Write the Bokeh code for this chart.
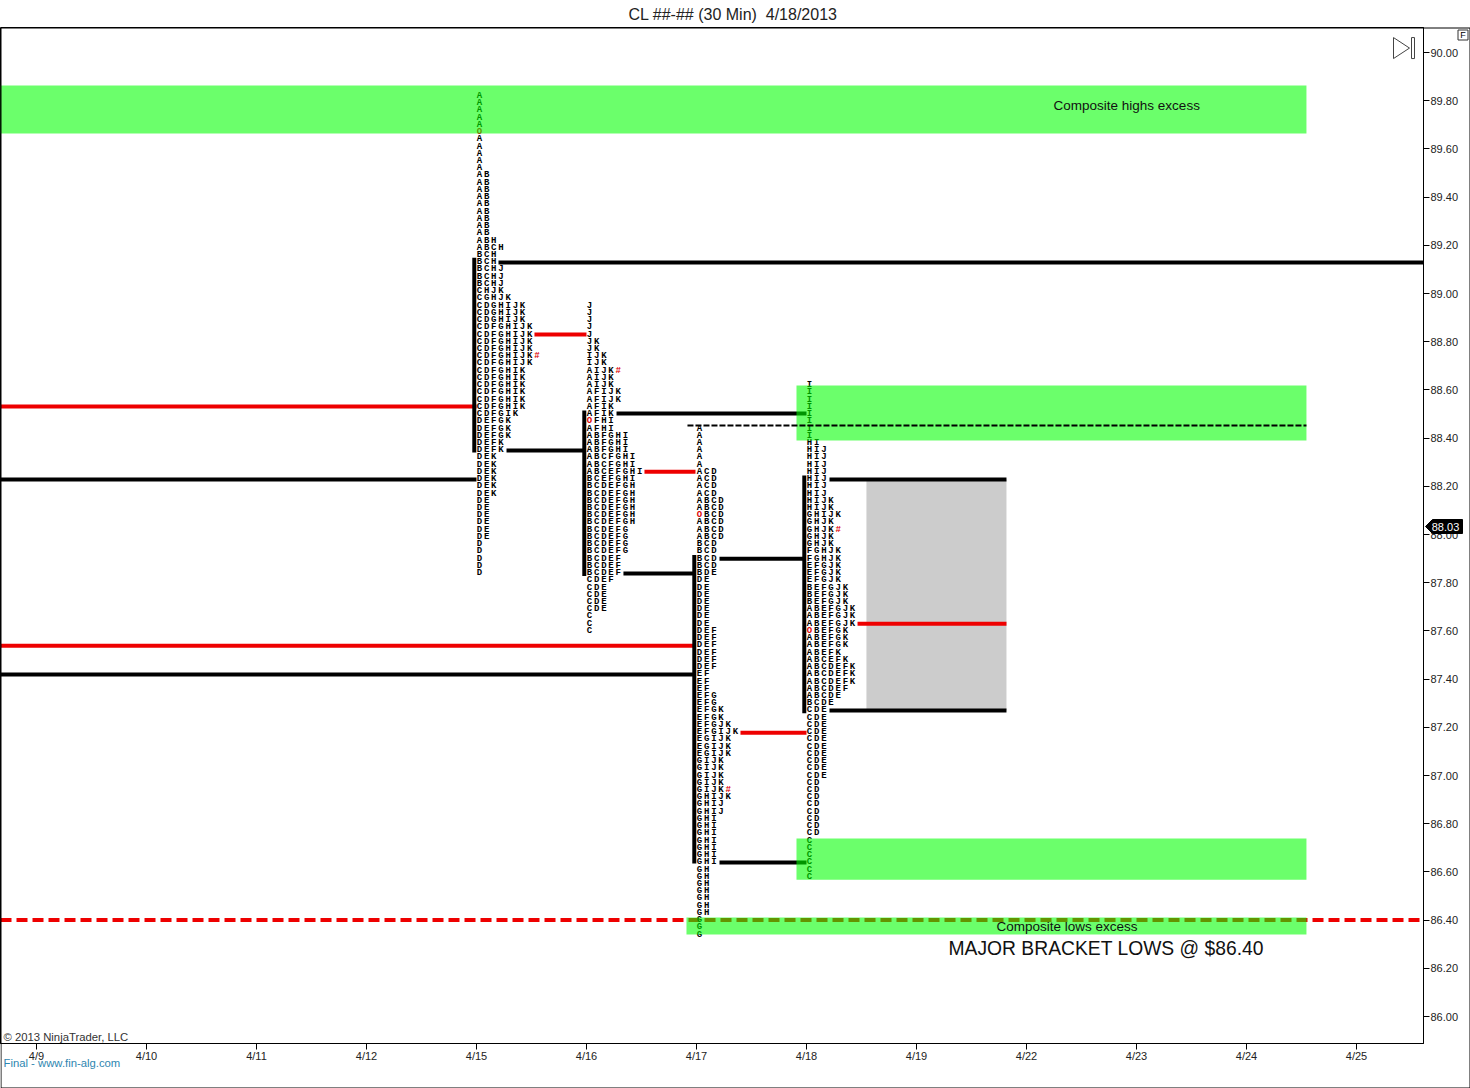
from bokeh.plotting import figure
from bokeh.embed import file_html
from bokeh.resources import INLINE
from bokeh.layouts import column
from bokeh.models import FixedTicker, NumeralTickFormatter, Range1d, Title
from bokeh.core.properties import value

# ---------- data ----------
DAY_LABELS = ["4/9", "4/10", "4/11", "4/12", "4/15", "4/16", "4/17", "4/18", "4/19", "4/22", "4/23", "4/24", "4/25"]
PRICE_TICKS = [86.0, 86.2, 86.4, 86.6, 86.8, 87.0, 87.2, 87.4, 87.6, 87.8, 88.0, 88.2, 88.4, 88.6, 88.8,
               89.0, 89.2, 89.4, 89.6, 89.8, 90.0]
TICK_SIZE = 0.03

# TPO profiles: day index, price of the top row, rows from top to bottom
PROFILE_DAYS = [4, 5, 6, 7]
PROFILE_TOPS = [89.82, 88.95, 88.44, 88.62]
ROWS_0415 = """A A A A A O A A A A A AB AB AB AB AB AB AB AB AB ABH ABCH BCH BCH BCHJ BCHJ BCHJ CHJK CGHJK
CDGHIJK CDGHIJK CDGHIJK CDFGHIJK CDFGHIJK CDFGHIJK CDFGHIJK CDFGHIJK# CDFGHIJK CDFGHIK CDFGHIK CDFGHIK CDFGHIK
CDFGHIK CDFGHIK CDFGIK DEFGK DEFGK DEFGK DEFK DEFK DEK DEK DEK DEK DEK DEK DE DE DE DE DE DE D D D D D""".split()
ROWS_0416 = """J J J J J JK JK IJK IJK AIJK# AIJK AIJK AFIJK AFIJK AFIK AFIK OFHI AFHI ABFGHI ABFGHI ABFGHI ABCFGHI ABCFGHI
ABCEFGHI BCEFGHI BCDEFGH BCDEFGH BCDEFGH BCDEFGH BCDEFGH BCDEFGH BCDEFG BCDEFG BCDEFG BCDEFG BCDEF BCDEF BCDEF
CDEF CDE CDE CDE CDE C C C""".split()
ROWS_0417 = """A A A A A A ACD ACD ACD ACD ABCD ABCD OBCD ABCD ABCD ABCD BCD BCD BCD BCD BDE DE DE DE DE DE DE DE
DEF DEF DEF DEF DEF DEF EF EF EF EFG EFG EFGK EFGK EFGJK EFGIJK EGIJK EGIJK EGIJK GIJK GIJK GIJK GIJK GIJK# GHIJK
GHIJ GHIJ GHI GHI GHI GHI GHI GHI GHI GH GH GH GH GH GH GH G G G""".split()
ROWS_0418 = """I I I I I I I I HI HIJ HIJ HIJ HIJ HIJ HIJ HIJ HIJK HIJK GHIJK GHJK GHJK# GHJK GHJK FGHJK FGHJK EFGJK EFGJK EFGJK
BEFGJK BEFGJK BEFGJK ABEFGJK ABEFGJK ABEFGJK OBEFGK ABEFGK ABEFGK ABEFK ABCEFK ABCDEFK ABCDEFK ABCDEFK ABCDEF ABCDE
BCDE CDE CDE CDE CDE CDE CDE CDE CDE CDE CDE CD CD CD CD CD CD CD CD C C C C C C""".split()
PROFILE_ROWS = [ROWS_0415, ROWS_0416, ROWS_0417, ROWS_0418]

# value-area bars: day position, high, low
VA_X = [3.98, 4.98, 5.98, 6.98]
VA_HIGH = [89.149, 88.515, 87.915, 88.245]
VA_LOW = [88.340, 87.828, 86.635, 87.258]

# levels: price, start, end
BLACK_PRICE = [89.129, 88.228, 87.419, 88.349, 88.502, 87.838, 87.90, 86.639, 88.228, 87.27]
BLACK_START = [4.20, -0.327, -0.327, 4.273, 5.273, 5.336, 6.209, 6.209, 7.209, 7.209]
BLACK_END = [12.609, 4.0, 5.982, 4.973, 7.0, 5.982, 6.982, 7.0, 8.818, 8.818]
RED_PRICE = [88.531, 87.539, 88.83, 88.261, 87.178, 87.63]
RED_START = [-0.327, -0.327, 4.527, 5.527, 6.40, 7.464]
RED_END = [4.0, 5.982, 5.0, 5.991, 7.0, 8.818]

# shaded zones
ZONE_LEFT = [-0.327, 6.909, 6.909, 5.909]
ZONE_RIGHT = [11.545, 11.545, 11.545, 11.545]
ZONE_TOP = [89.863, 88.618, 86.739, 86.411]
ZONE_BOTTOM = [89.664, 88.39, 86.568, 86.34]
BRACKET_LOW = 86.40
DASH_LEVEL = 88.452
RANGE_BOX = (7.545, 8.818, 88.228, 87.27)
LAST_PRICE = "88.03"

# ---------- layout ----------
X0, X1 = -0.327, 12.609
Y0, Y1 = 85.888, 90.104
W, H = 1470, 1088
p = figure(width=W, height=H, x_range=Range1d(X0, X1), y_range=Range1d(Y0, Y1),
           output_backend="svg", toolbar_location=None, frame_align=False,
           min_border_left=0, min_border_right=47, min_border_bottom=45, min_border_top=0,
           background_fill_color="white", border_fill_color="white", y_axis_location="right")
p.title = Title(text="CL ##-## (30 Min)\u00a0 4/18/2013", align="left", offset=628,
                text_font="Liberation Sans", text_font_size="16px", text_font_style="normal",
                text_color="#222222", standoff=8, vertical_align="middle")
p.min_border_top = 27
p.grid.visible = False
p.outline_line_color = "black"

xa = p.xaxis[0]
xa.ticker = FixedTicker(ticks=list(range(len(DAY_LABELS))))
xa.major_label_overrides = {i: s for i, s in enumerate(DAY_LABELS)}
xa.minor_tick_line_color = None
xa.major_tick_in = 0
xa.major_tick_out = 6
xa.major_label_standoff = 0
xa.major_label_text_font = "Liberation Sans"
xa.major_label_text_font_size = "11px"
xa.major_label_text_color = "#222222"

ya = p.yaxis[0]
ya.ticker = FixedTicker(ticks=PRICE_TICKS)
ya.formatter = NumeralTickFormatter(format="0.00")
ya.minor_tick_line_color = None
ya.major_tick_in = 0
ya.major_tick_out = 6
ya.major_label_standoff = 1
ya.major_label_text_font = "Liberation Sans"
ya.major_label_text_font_size = "11px"
ya.major_label_text_color = "#222222"

# range box
p.quad(left=[RANGE_BOX[0]], right=[RANGE_BOX[1]], top=[RANGE_BOX[2]], bottom=[RANGE_BOX[3]],
       fill_color="#cccccc", line_color=None)

# levels
p.segment(BLACK_START, BLACK_PRICE, BLACK_END, BLACK_PRICE, line_color="black", line_width=4, line_cap="butt")
p.segment(RED_START, RED_PRICE, RED_END, RED_PRICE, line_color="#ee0000", line_width=4, line_cap="butt")
p.segment(VA_X, VA_HIGH, VA_X, VA_LOW, line_color="black", line_width=4, line_cap="butt")
p.segment([X0], [BRACKET_LOW], [X1], [BRACKET_LOW], line_color="#ee0000", line_width=4, line_dash="11 5", line_cap="butt")

# TPO letters
COL_OFFSET = 3 / 110
COL_STEP = 7.17 / 110
xs, ys, chars, cols = [], [], [], []
for day, top, rows in zip(PROFILE_DAYS, PROFILE_TOPS, PROFILE_ROWS):
    for i, row in enumerate(rows):
        for j, ch in enumerate(row):
            xs.append(day + COL_OFFSET + j * COL_STEP)
            ys.append(top - i * TICK_SIZE)
            chars.append(ch)
            cols.append("#dd0000" if ch in "#O" else "black")
p.text(xs, ys, text=chars, text_color=cols, text_font=value("Liberation Mono"), text_font_size="9px",
       text_font_style="bold", text_align="center", text_baseline="middle")

# zones above letters
p.quad(left=ZONE_LEFT, right=ZONE_RIGHT, top=ZONE_TOP, bottom=ZONE_BOTTOM,
       fill_color="#00ff00", fill_alpha=0.58, line_color=None)
p.segment([5.918], [DASH_LEVEL], [11.545], [DASH_LEVEL], line_color="black", line_width=2, line_dash="6 2", line_cap="butt")

def note(text, day, price, size, color="#111111"):
    p.text([day], [price], text=[text], text_color=color, text_font=value("Liberation Sans"),
           text_font_size=size, text_align="left", text_baseline="middle")

note("Composite highs excess", 9.246, 89.78, "13.5px")
note("Composite lows excess", 8.727, 86.372, "13.5px")
note("MAJOR BRACKET LOWS @ $86.40", 8.291, 86.283, "19.3px")
note("© 2013 NinjaTrader, LLC", -0.30, 85.917, "11.3px", "#333333")

# play/end icon
def px(x): return (x - 36) / 110
def py(y): return 90 - (y - 52) / 241
p.patch([px(1393), px(1393), px(1409)], [py(37), py(58), py(47.5)], fill_color="white", line_color="#444444", line_width=1)
p.patch([px(1411), px(1411), px(1414), px(1414)], [py(37), py(58), py(58), py(37)], fill_color="white", line_color="#444444", line_width=1)

# transparent overlay in page pixels for the chrome that lies outside the plot frame
ov = figure(width=W, height=H, x_range=Range1d(0, W), y_range=Range1d(H, 0),
            output_backend="svg", toolbar_location=None, x_axis_location=None, y_axis_location=None,
            frame_align=False, min_border=0, min_border_left=0, min_border_right=0, min_border_top=0, min_border_bottom=0,
            background_fill_color=None, border_fill_color=None, outline_line_color=None,
            margin=(-H, 0, 0, 0))
ov.grid.visible = False
ov.line([0.5, 1469.5, 1469.5, 0.5, 0.5], [27.5, 27.5, 1087.5, 1087.5, 27.5], line_color="black", line_width=1)
ov.patch([1425, 1432, 1462, 1462, 1432], [526, 519, 519, 533, 533], fill_color="black", line_color="black")
ov.text([1445], [526], text=[LAST_PRICE], text_color="white", text_font=value("Liberation Sans"),
        text_font_size="11px", text_align="center", text_baseline="middle")
ov.quad(left=[1457.5], right=[1467.5], top=[29.5], bottom=[39.5], fill_color="white", line_color="#333333")
ov.text([1462.5], [34.5], text=["F"], text_color="black", text_font=value("Liberation Sans"),
        text_font_size="9px", text_align="center", text_baseline="middle")
ov.text([3], [1062], text=["Final - www.fin-alg.com"], text_color="#2e86b0", text_font=value("Liberation Sans"),
        text_font_size="11.3px", text_align="left", text_baseline="middle")

open("out.html", "w").write(file_html(column(p, ov), INLINE))
